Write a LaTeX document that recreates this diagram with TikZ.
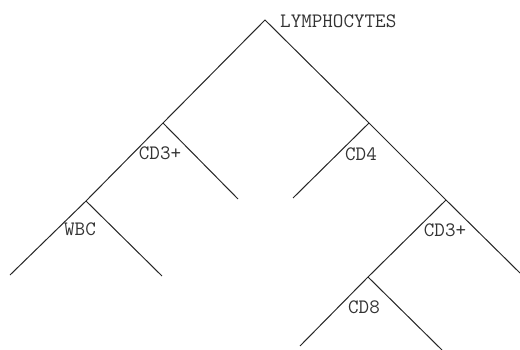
\documentclass[tikz,border=0pt]{standalone}
\begin{document}
\begin{tikzpicture}[x=1pt,y=-1pt,
  branch/.style={draw=black!85,line width=1.0pt},
  lbl/.style={inner sep=0pt,font=\ttfamily\fontsize{20.5}{20.5}\selectfont,text=black!80}]
\useasboundingbox (0,0) rectangle (520,350);
\coordinate (A) at (265,20);
\coordinate (L1) at (163,123);
\coordinate (W) at (86,201);
\coordinate (WL) at (10,275);
\coordinate (WR) at (162,276);
\coordinate (C3R) at (238,199);
\coordinate (R1) at (369,123);
\coordinate (C4L) at (293,198);
\coordinate (R2) at (446,200);
\coordinate (RR) at (520,273);
\coordinate (C8) at (368,277);
\coordinate (C8L) at (300,346);
\coordinate (C8R) at (442,350);
\draw[branch] (WL) -- (W) -- (L1) -- (A) -- (R1) -- (R2) -- (RR);
\draw[branch] (L1) -- (C3R);
\draw[branch] (W) -- (WR);
\draw[branch] (R1) -- (C4L);
\draw[branch] (R2) -- (C8) -- (C8L);
\draw[branch] (C8) -- (C8R);
\node[lbl,anchor=west] (ly) at (280,21) {LYMPHOCYTES};
\node[lbl] (cd3a) at (160,153) {CD3+};
\node[lbl] (cd4) at (361,154) {CD4};
\node[lbl] (wbc) at (80,229) {WBC};
\node[lbl] (cd3b) at (445,230) {CD3+};
\node[lbl] (cd8) at (364,307) {CD8};
\end{tikzpicture}
\end{document}
